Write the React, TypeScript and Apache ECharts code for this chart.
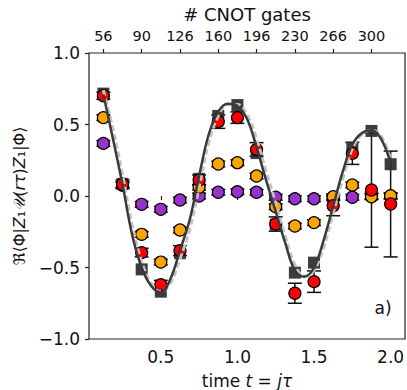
import React, { useEffect, useRef } from "react";
import * as echarts from "echarts";

// time points t = j*tau
const times = [0.125, 0.25, 0.375, 0.5, 0.625, 0.75, 0.875, 1.0, 1.125, 1.25, 1.375, 1.5, 1.625, 1.75, 1.875, 2.0];

// black squares
const squareVals = [0.716, 0.085, -0.513, -0.669, -0.4, 0.12, 0.56, 0.636, 0.3, -0.2, -0.536, -0.466, -0.05, 0.338, 0.455, 0.222];
// red circles
const redVals = [0.701, 0.082, -0.396, -0.62, -0.382, 0.112, 0.52, 0.548, 0.326, -0.196, -0.68, -0.599, -0.068, 0.298, 0.042, -0.056];
const redErr = [0.025, 0.03, 0.03, 0.03, 0.035, 0.035, 0.047, 0.04, 0.047, 0.05, 0.07, 0.075, 0.07, 0.077, 0.4, 0.37];
// orange circles
const orangeVals = [0.548, 0.08, -0.268, -0.462, -0.238, 0.061, 0.224, 0.233, 0.14, -0.075, -0.21, -0.186, -0.005, 0.077, -0.005, 0.002];
const orangeErr = [0.02, 0.02, 0.02, 0.02, 0.02, 0.02, 0.02, 0.02, 0.02, 0.02, 0.02, 0.02, 0.02, 0.02, 0.02, 0.02];
// purple circles
const purpleVals = [0.368, 0.075, -0.058, -0.093, -0.028, 0.0, 0.026, 0.03, 0.026, -0.009, -0.019, -0.019, -0.012, -0.009, 0.0, -0.002];
const purpleErr = [0.02, 0.02, 0.02, 0.02, 0.02, 0.02, 0.02, 0.02, 0.02, 0.02, 0.02, 0.02, 0.02, 0.02, 0.02, 0.02];

// theory curves
const curveT = [0.125, 0.1875, 0.25, 0.3125, 0.375, 0.4375, 0.5, 0.5625, 0.625, 0.6875, 0.75, 0.8125, 0.875, 0.9375, 1.0, 1.0625, 1.125, 1.1875, 1.25, 1.3125, 1.375, 1.4375, 1.5, 1.5625, 1.625, 1.6875, 1.75, 1.8125, 1.875, 1.9375, 2.0];
const curveDark = [0.71, 0.4, 0.08, -0.27, -0.5, -0.63, -0.675, -0.58, -0.38, -0.17, 0.14, 0.43, 0.59, 0.645, 0.63, 0.54, 0.34, 0.11, -0.11, -0.33, -0.52, -0.565, -0.5, -0.31, -0.07, 0.17, 0.36, 0.44, 0.46, 0.4, 0.23];
const curveGray = [0.74, 0.47, 0.15, -0.2, -0.46, -0.61, -0.67, -0.61, -0.44, -0.24, 0.06, 0.37, 0.56, 0.64, 0.64, 0.57, 0.4, 0.17, -0.05, -0.28, -0.48, -0.56, -0.52, -0.36, -0.12, 0.12, 0.33, 0.43, 0.46, 0.42, 0.26];

// axes ticks
const bottomTicks = [0.5, 1.0, 1.5, 2.0];
const topTickPos = [0.125, 0.375, 0.625, 0.875, 1.125, 1.375, 1.625, 1.875];
const topTickLabels = ["56", "90", "126", "160", "196", "230", "266", "300"];
const xMin = 0.03125;
const xMax = 2.09375;

const FONT = "DejaVu Sans";

function errSeries(vals: number[], errs: number[], name: string) {
  return {
    type: "custom",
    name,
    xAxisIndex: 0,
    yAxisIndex: 0,
    silent: true,
    data: times.map((t, i) => [t, vals[i], errs[i]]),
    encode: { x: 0, y: 1 },
    renderItem: (params: any, api: any) => {
      const x = api.value(0);
      const y = api.value(1);
      const e = api.value(2);
      const top = api.coord([x, y + e]);
      const bot = api.coord([x, y - e]);
      const hw = 7;
      const style = { stroke: "#111", lineWidth: 1.5 };
      return {
        type: "group",
        children: [
          { type: "line", shape: { x1: top[0], y1: top[1], x2: bot[0], y2: bot[1] }, style },
          { type: "line", shape: { x1: top[0] - hw, y1: top[1], x2: top[0] + hw, y2: top[1] }, style },
          { type: "line", shape: { x1: bot[0] - hw, y1: bot[1], x2: bot[0] + hw, y2: bot[1] }, style },
        ],
      };
    },
  };
}

function circleSeries(vals: number[], color: string, name: string) {
  return {
    type: "scatter",
    name,
    xAxisIndex: 0,
    yAxisIndex: 0,
    symbol: "circle",
    symbolSize: 12,
    itemStyle: { color, borderColor: "#000", borderWidth: 1.2, opacity: 1 },
    data: times.map((t, i) => [t, vals[i]]),
  };
}

export default function App() {
  const ref = useRef<HTMLDivElement>(null);
  useEffect(() => {
    if (!ref.current) return;
    const chart = echarts.init(ref.current, undefined, { renderer: "svg" });
    const option: any = {
      animation: false,
      backgroundColor: "#fff",
      textStyle: { fontFamily: FONT },
      grid: {
        left: 89,
        right: 2,
        top: 53,
        bottom: 51,
        show: true,
        borderColor: "#222",
        borderWidth: 1.2,
        backgroundColor: "transparent",
        containLabel: false,
        outerBoundsMode: "none",
      },
      xAxis: [
        {
          type: "value",
          position: "bottom",
          min: xMin,
          max: xMax,
          axisLine: { show: false },
          splitLine: { show: false },
          axisTick: { show: true, inside: false, length: 4, customValues: bottomTicks, lineStyle: { color: "#222", width: 1.2 } },
          axisLabel: {
            customValues: bottomTicks,
            formatter: (v: number) => v.toFixed(1),
            fontSize: 17,
            color: "#111",
            fontFamily: FONT,
            margin: 9,
          },
          name: "{n|time }{i|t}{n| = }{i|jτ}",
          nameLocation: "middle",
          nameGap: 33,
          nameTextStyle: {
            fontSize: 17,
            color: "#111",
            fontFamily: FONT,
            rich: {
              n: { fontSize: 17, color: "#111", fontFamily: FONT },
              i: { fontSize: 17, color: "#111", fontFamily: FONT, fontStyle: "italic" },
            },
          },
        },
        {
          type: "value",
          position: "top",
          min: xMin,
          max: xMax,
          axisLine: { show: false },
          splitLine: { show: false },
          axisTick: { show: true, inside: false, length: 4, customValues: topTickPos, lineStyle: { color: "#222", width: 1.2 } },
          axisLabel: {
            customValues: topTickPos,
            formatter: (v: number) => {
              const idx = topTickPos.findIndex((p) => Math.abs(p - v) < 1e-6);
              return idx >= 0 ? topTickLabels[idx] : "";
            },
            fontSize: 14.5,
            color: "#111",
            fontFamily: FONT,
            margin: 10,
          },
          name: "# CNOT gates",
          nameLocation: "middle",
          nameGap: 30,
          nameTextStyle: { fontSize: 18, color: "#111", fontFamily: FONT },
        },
      ],
      yAxis: [
        {
          type: "value",
          min: -1,
          max: 1,
          interval: 0.5,
          axisLine: { show: false },
          splitLine: { show: false },
          axisTick: { show: true, inside: false, length: 4, lineStyle: { color: "#222", width: 1.2 } },
          axisLabel: {
            formatter: (v: number) => v.toFixed(1).replace("-", "\u2212"),
            fontSize: 17,
            color: "#111",
            fontFamily: FONT,
            margin: 9,
          },
          name: "{n|ℜ⟨Φ|}{i|Z}{n|₁}{c|𝒰}{n|(}{i|rτ}{n|)}{i|Z}{n|₁|Φ⟩}",
          nameLocation: "middle",
          nameGap: 56,
          nameRotate: 90,
          nameTextStyle: {
            fontSize: 16,
            color: "#111",
            fontFamily: FONT,
            rich: {
              n: { fontSize: 16, color: "#111", fontFamily: FONT },
              i: { fontSize: 16, color: "#111", fontFamily: FONT, fontStyle: "italic" },
              c: { fontSize: 16, color: "#111", fontFamily: FONT, fontStyle: "italic" },
            },
          },
        },
      ],
      graphic: [
        {
          type: "text",
          x: 383,
          y: 308,
          style: { text: "a)", fontSize: 17, fontFamily: FONT, fill: "#111", textAlign: "center", textVerticalAlign: "middle" },
        },
      ],
      series: [
        {
          type: "line",
          name: "theory2",
          data: curveT.map((t, i) => [t, curveGray[i]]),
          smooth: 0.4,
          symbol: "none",
          lineStyle: { color: "#c4c4c4", width: 3, type: [6, 3] },
          silent: true,
        },
        {
          type: "line",
          name: "theory",
          data: curveT.map((t, i) => [t, curveDark[i]]),
          smooth: 0.4,
          symbol: "none",
          lineStyle: { color: "#3a3a3a", width: 2.5 },
          silent: true,
        },
        {
          type: "scatter",
          name: "squares",
          symbol: "rect",
          symbolSize: 12,
          itemStyle: { color: "#2b2b2b", opacity: 0.92 },
          data: times.map((t, i) => [t, squareVals[i]]),
        },
        errSeries(purpleVals, purpleErr, "purpleErr"),
        circleSeries(purpleVals, "#9932cc", "purple"),
        errSeries(orangeVals, orangeErr, "orangeErr"),
        circleSeries(orangeVals, "#ffa500", "orange"),
        errSeries(redVals, redErr, "redErr"),
        circleSeries(redVals, "#ff0000", "red"),
      ],
    };
    chart.setOption(option);
    return () => chart.dispose();
  }, []);
  return <div ref={ref} style={{ position: "fixed", left: 0, top: 0, width: 407, height: 390 }} />;
}
